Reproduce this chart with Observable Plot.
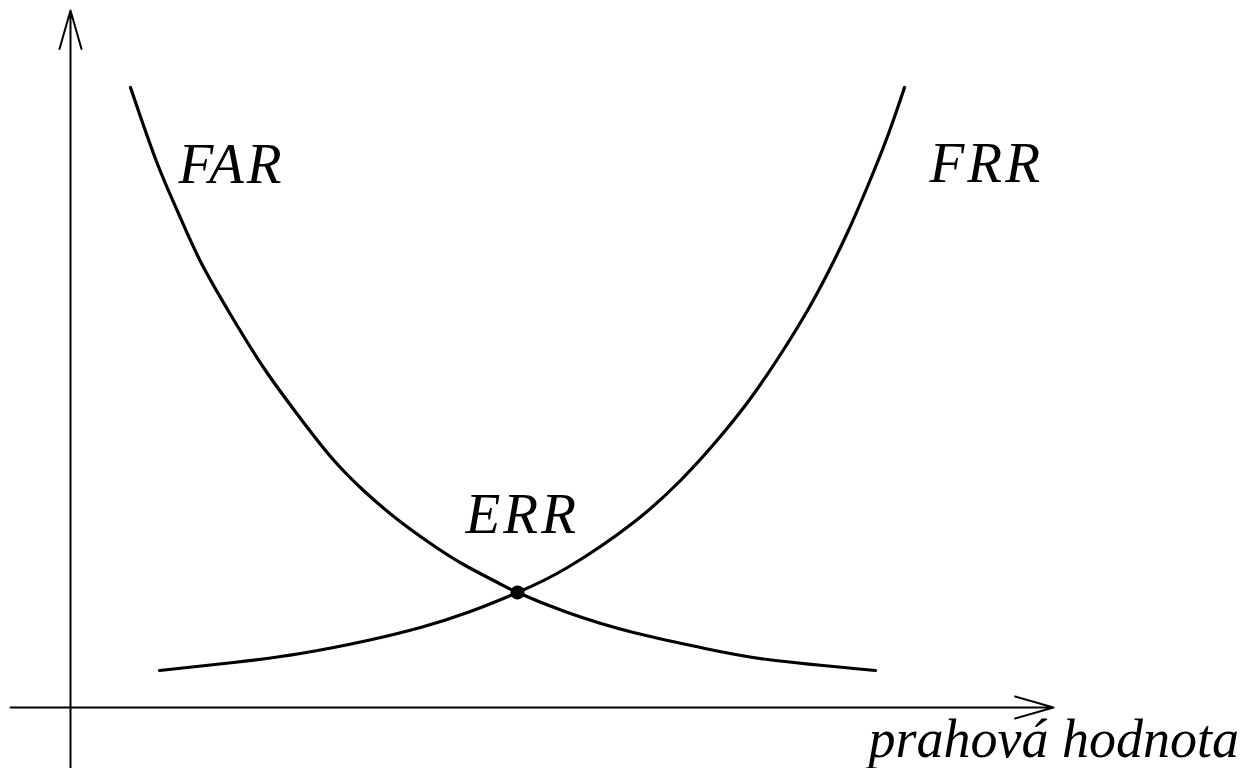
<!DOCTYPE html>
<html>
<head>
<meta charset="utf-8">
<script src="https://cdn.jsdelivr.net/npm/d3@7"></script>
<script src="https://cdn.jsdelivr.net/npm/@observablehq/plot@0.6"></script>
<style>
  html, body { margin: 0; padding: 0; background: #fff; overflow: hidden; }
</style>
</head>
<body>
<div id="chart"></div>
<script>
// threshold (t) and rate (r) values, origin at the axes' crossing
const farT = [60, 86, 108, 130, 160, 193, 227, 260, 293, 327, 360, 393, 427, 447, 497, 563, 630, 697, 805];
const farR = [620, 546, 494, 446, 393, 340, 293, 251, 217, 188, 164, 143, 125, 115, 95, 75, 60, 48, 37];
const frrT = [89, 163, 230, 297, 350, 397, 447, 497, 563, 610, 643, 677, 710, 737, 757, 777, 797, 817, 834];
const frrR = [37, 45, 54, 67, 80, 95, 115, 140, 185, 227, 263, 305, 353, 397, 434, 475, 521, 571, 620];
const errPoint = {t: 447, r: 115};

const labels = ["FAR", "FRR", "ERR"];
const labelT = [108, 859, 395];
const labelR = [525, 526, 175];
const axisTitle = "prahová hodnota";
const axisTitleT = 798;
const axisTitleR = -49;

// extent of the drawn axes
const tDomain = [-70, 1173];
const rDomain = [-61, 707];
const xAxisExtent = [-60, 983];
const yAxisExtent = [-61, 697];

const far = farT.map((t, i) => ({t, r: farR[i]}));
const frr = frrT.map((t, i) => ({t, r: frrR[i]}));
const labelData = labels.map((text, i) => ({text, t: labelT[i], r: labelR[i]}));

const font = "'Liberation Serif', 'DejaVu Serif', serif";

const chart = Plot.plot({
  width: 1243,
  height: 768,
  margin: 0,
  x: {domain: tDomain, axis: null},
  y: {domain: rDomain, axis: null},
  style: {background: "#fff"},
  marks: [
    Plot.arrow([{x1: xAxisExtent[0], x2: xAxisExtent[1], y1: 0, y2: 0}], {
      x1: "x1", y1: "y1", x2: "x2", y2: "y2",
      stroke: "#000", strokeWidth: 2, headLength: 30, headAngle: 32
    }),
    Plot.arrow([{x1: 0, x2: 0, y1: yAxisExtent[0], y2: yAxisExtent[1]}], {
      x1: "x1", y1: "y1", x2: "x2", y2: "y2",
      stroke: "#000", strokeWidth: 2, headLength: 30, headAngle: 32
    }),
    Plot.line(far, {x: "t", y: "r", stroke: "#000", strokeWidth: 3.2, curve: "natural"}),
    Plot.line(frr, {x: "t", y: "r", stroke: "#000", strokeWidth: 3.2, curve: "natural"}),
    Plot.dot([errPoint], {x: "t", y: "r", r: 7, fill: "#000"}),
    Plot.text(labelData, {
      x: "t", y: "r", text: "text", textAnchor: "start", lineAnchor: "bottom",
      fontSize: 57, fontStyle: "italic", fontFamily: font, fill: "#000"
    }),
    Plot.text([{text: axisTitle, t: axisTitleT, r: axisTitleR}], {
      x: "t", y: "r", text: "text", textAnchor: "start", lineAnchor: "bottom",
      fontSize: 54, fontStyle: "italic", fontFamily: font, fill: "#000"
    })
  ]
});
d3.select(chart).selectAll("text")
  .filter(function () { return labels.includes(this.textContent); })
  .style("letter-spacing", "3px");
document.getElementById("chart").appendChild(chart);
</script>
</body>
</html>
